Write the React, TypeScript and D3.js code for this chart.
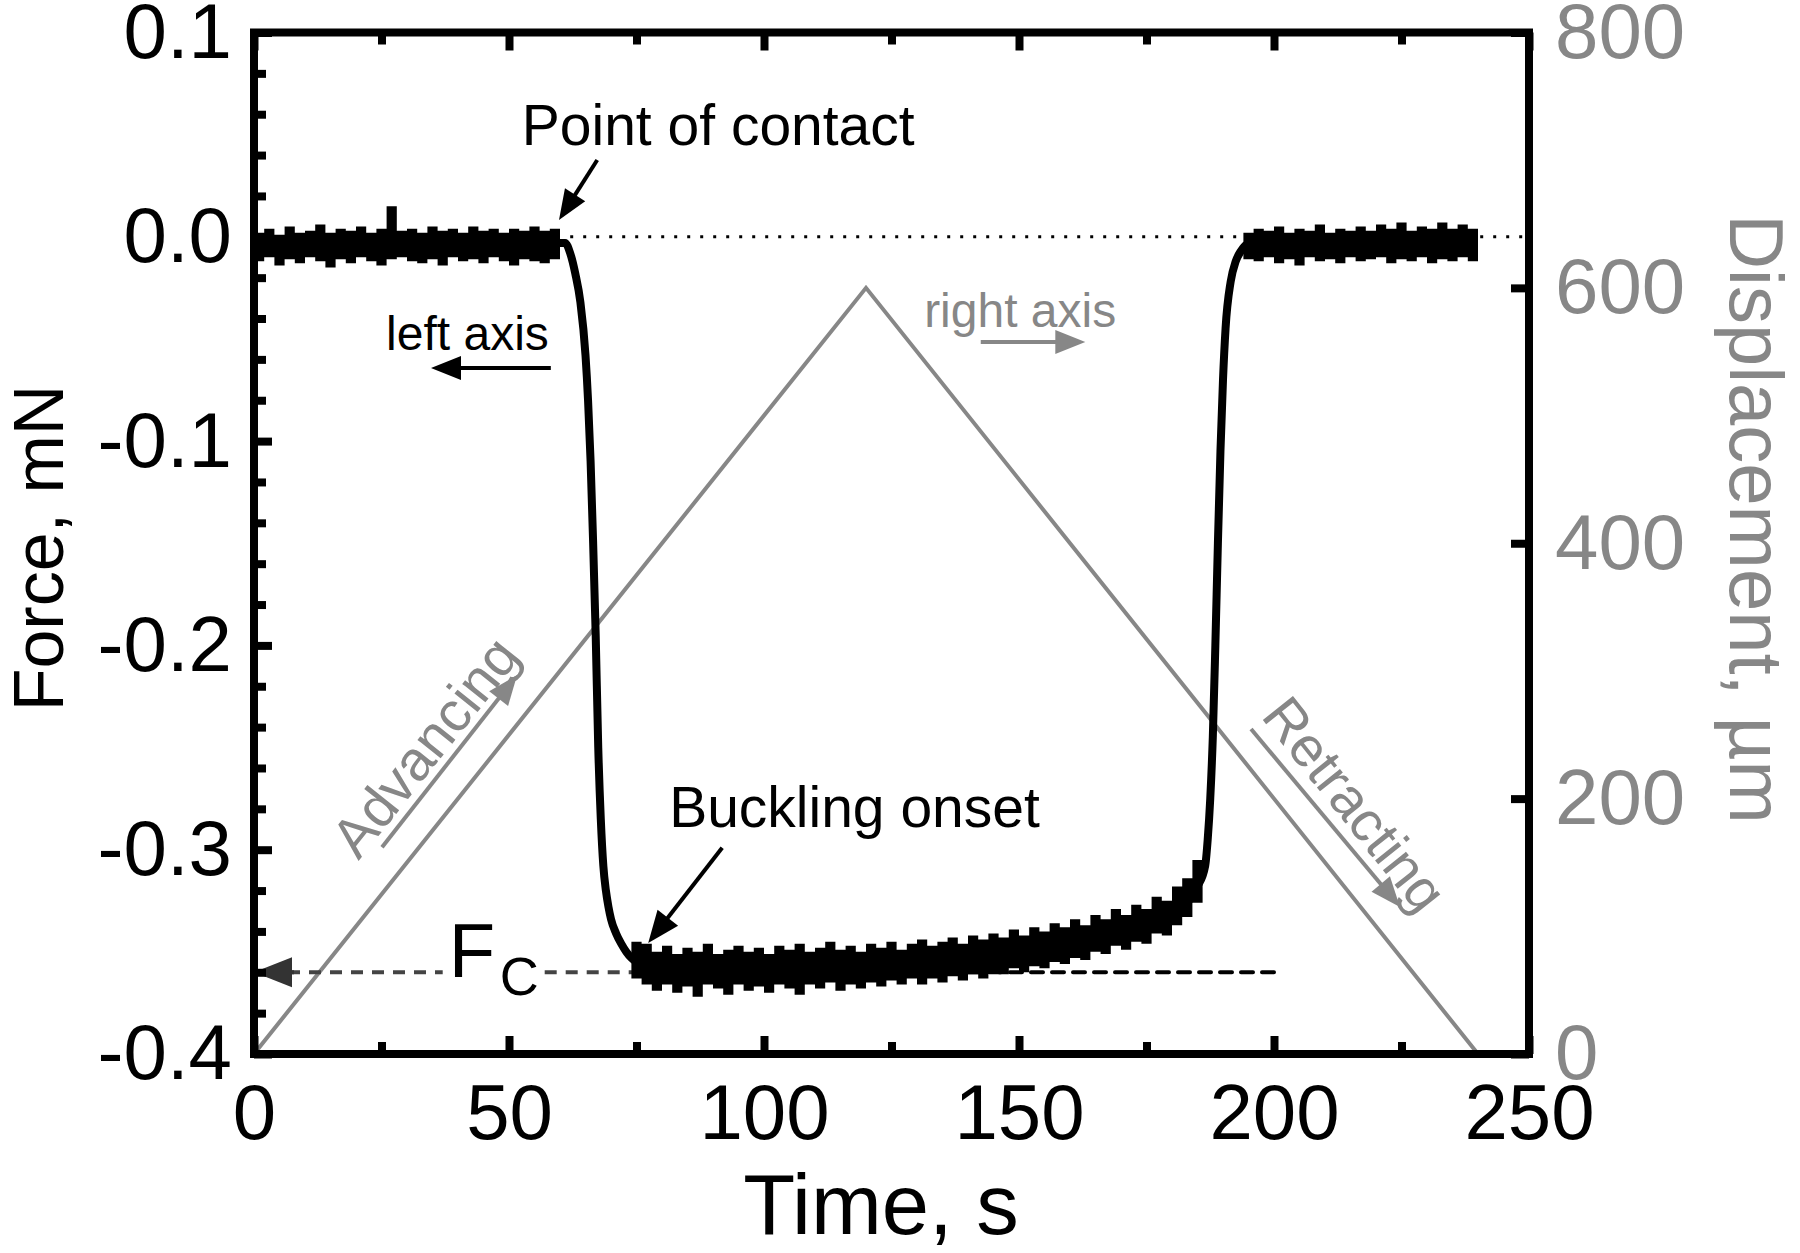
import React, { useEffect, useRef } from 'react'
import * as d3 from 'd3'

// axis ticks
const timeTicks = [0, 50, 100, 150, 200, 250]
const timeMinorTicks = [25, 75, 125, 175, 225]
const forceTicks = [0.1, 0.0, -0.1, -0.2, -0.3, -0.4]
const forceMinorTicks = [0.08, 0.06, 0.04, 0.02, -0.02, -0.04, -0.06, -0.08, -0.12, -0.14, -0.16, -0.18,
  -0.22, -0.24, -0.26, -0.28, -0.32, -0.34, -0.36, -0.38]
const dispTicks = [0, 200, 400, 600, 800]

// force trace (mean line)
const forceTime = [0, 20, 40, 60, 61, 62, 63, 64, 65, 65.5, 66, 66.5, 67, 67.5, 68, 68.5, 69, 69.5, 70, 71, 72,
  73, 74, 76, 80, 90, 100, 110, 120, 130, 140, 150, 160, 170, 175, 180, 183, 185, 186.5, 187, 187.5, 188, 188.5,
  189, 189.5, 190, 190.5, 191.5, 192.5, 193.5, 194.5, 196, 200, 220, 240]
const forceMean = [-0.004, -0.004, -0.004, -0.003, -0.003, -0.008, -0.018, -0.032, -0.058, -0.08, -0.11, -0.15,
  -0.195, -0.25, -0.285, -0.308, -0.32, -0.328, -0.334, -0.341, -0.346, -0.35, -0.353, -0.356, -0.357, -0.358,
  -0.358, -0.357, -0.357, -0.356, -0.355, -0.352, -0.348, -0.342, -0.338, -0.332, -0.326, -0.318, -0.308, -0.295,
  -0.275, -0.245, -0.2, -0.15, -0.105, -0.07, -0.045, -0.022, -0.012, -0.007, -0.004, -0.003, -0.002, -0.002,
  -0.002]

// noise envelope of the force trace (every 2 s)
const noise1Time = d3.range(0, 61, 2)
const noise1High = [0.002, 0.004, 0.001, 0.005, 0.002, 0.003, 0.006, 0.002, 0.004, 0.003, 0.005, 0.002, 0.004,
  0.015, 0.003, 0.004, 0.002, 0.005, 0.003, 0.004, 0.002, 0.005, 0.003, 0.004, 0.002, 0.004, 0.003, 0.005, 0.003,
  0.004, 0.004]
const noise1Low = [-0.012, -0.01, -0.014, -0.011, -0.013, -0.01, -0.012, -0.015, -0.011, -0.013, -0.01, -0.012,
  -0.014, -0.011, -0.01, -0.012, -0.013, -0.011, -0.014, -0.01, -0.012, -0.011, -0.013, -0.01, -0.012, -0.014,
  -0.011, -0.012, -0.013, -0.011, -0.01]
const noise2Time = d3.range(74, 187, 2)
const noise2High = [-0.345, -0.346, -0.35, -0.347, -0.351, -0.348, -0.35, -0.346, -0.351, -0.349, -0.347, -0.35,
  -0.348, -0.351, -0.347, -0.349, -0.346, -0.35, -0.348, -0.345, -0.349, -0.347, -0.35, -0.346, -0.348, -0.345,
  -0.349, -0.346, -0.344, -0.347, -0.345, -0.343, -0.346, -0.342, -0.344, -0.341, -0.343, -0.339, -0.342, -0.338,
  -0.34, -0.336, -0.338, -0.334, -0.337, -0.332, -0.334, -0.329, -0.332, -0.327, -0.329, -0.323, -0.325, -0.318,
  -0.314, -0.305, -0.295]
const noise2Low = [-0.363, -0.366, -0.369, -0.366, -0.37, -0.367, -0.372, -0.366, -0.368, -0.371, -0.366, -0.369,
  -0.367, -0.37, -0.366, -0.368, -0.371, -0.366, -0.368, -0.365, -0.369, -0.366, -0.368, -0.365, -0.367, -0.364,
  -0.366, -0.363, -0.366, -0.363, -0.365, -0.362, -0.364, -0.361, -0.363, -0.36, -0.361, -0.358, -0.36, -0.357,
  -0.358, -0.355, -0.356, -0.353, -0.354, -0.35, -0.351, -0.347, -0.349, -0.345, -0.346, -0.341, -0.342, -0.337,
  -0.333, -0.326, -0.316]
const noise3Time = d3.range(194, 241, 2)
const noise3High = [0.002, 0.004, 0.003, 0.005, 0.002, 0.004, 0.003, 0.006, 0.002, 0.004, 0.003, 0.005, 0.003,
  0.006, 0.004, 0.007, 0.003, 0.005, 0.004, 0.007, 0.004, 0.006, 0.004, 0.004]
const noise3Low = [-0.011, -0.012, -0.01, -0.013, -0.011, -0.014, -0.01, -0.012, -0.011, -0.013, -0.01, -0.012,
  -0.011, -0.01, -0.013, -0.011, -0.012, -0.01, -0.013, -0.011, -0.012, -0.01, -0.012, -0.011]

// displacement (right axis)
const dispTime = [0, 120, 240]
const dispValue = [0, 600, 0]

const criticalForce = -0.36

const W = 1800
const H = 1253
const margin = { left: 254, right: 271, top: 32.5, bottom: 199 }
const FONT = '"Liberation Sans", Arial, Helvetica, sans-serif'
const GREY = '#878787'

function arrow(g, x1, y1, x2, y2, color, width, headLen, headHalf) {
  const a = Math.atan2(y2 - y1, x2 - x1)
  const c = Math.cos(a)
  const s = Math.sin(a)
  const bx = x2 - headLen * c
  const by = y2 - headLen * s
  g.append('line')
    .attr('x1', x1).attr('y1', y1).attr('x2', bx + c).attr('y2', by + s)
    .attr('stroke', color).attr('stroke-width', width)
  g.append('path')
    .attr('d', `M${x2},${y2}L${bx - headHalf * s},${by + headHalf * c}L${bx + headHalf * s},${by - headHalf * c}Z`)
    .attr('fill', color)
}

export default function App() {
  const svgRef = useRef(null)

  useEffect(() => {
    const svg = d3.select(svgRef.current)
    svg.selectAll('*').remove()

    const x = d3.scaleLinear().domain([0, 250]).range([margin.left, W - margin.right])
    const yF = d3.scaleLinear().domain([-0.4, 0.1]).range([H - margin.bottom, margin.top])
    const yD = d3.scaleLinear().domain([0, 800]).range([H - margin.bottom, margin.top])
    const x0 = margin.left
    const x1 = W - margin.right
    const y0 = margin.top
    const y1 = H - margin.bottom

    const g = svg.append('g')

    // displacement triangle
    const dispLine = d3.line().x(d => x(d[0])).y(d => yD(d[1]))
    g.append('path')
      .datum(dispTime.map((t, i) => [t, dispValue[i]]))
      .attr('d', dispLine)
      .attr('fill', 'none')
      .attr('stroke', GREY)
      .attr('stroke-width', 4)

    // zero force dotted line
    g.append('line')
      .attr('x1', x(62)).attr('x2', x(250))
      .attr('y1', yF(0)).attr('y2', yF(0))
      .attr('stroke', '#000').attr('stroke-width', 3)
      .attr('stroke-dasharray', '3,10')

    // critical force dashed line, broken around the F_C label
    const fcY = yF(criticalForce)
    ;[[x(0) + 34, x(37)], [x(57), x(76)]].forEach(([a, b]) => {
      g.append('line')
        .attr('x1', a).attr('x2', b)
        .attr('y1', fcY).attr('y2', fcY)
        .attr('stroke', '#444').attr('stroke-width', 4)
        .attr('stroke-dasharray', '12,9')
    })
    g.append('line')
      .attr('x1', x(140)).attr('x2', x(200))
      .attr('y1', fcY).attr('y2', fcY)
      .attr('stroke', '#000').attr('stroke-width', 4)
      .attr('stroke-dasharray', '12,9')
      .attr('stroke-linecap', 'round')
    arrow(g, x(0) + 40, fcY, x(0), fcY, '#333', 4, 38, 15)

    // force noise band
    const band = d3.area()
      .x(d => x(d[0]))
      .y0(d => yF(d[2]))
      .y1(d => yF(d[1]))
      .curve(d3.curveStepAfter)
    const segs = [
      [noise1Time, noise1High, noise1Low],
      [noise2Time, noise2High, noise2Low],
      [noise3Time, noise3High, noise3Low]
    ]
    segs.forEach(([ts, hi, lo]) => {
      g.append('path')
        .datum(ts.map((t, i) => [t, hi[i], lo[i]]))
        .attr('d', band)
        .attr('fill', '#000')
    })

    // force mean line
    const forceLine = d3.line().x(d => x(d[0])).y(d => yF(d[1])).curve(d3.curveMonotoneX)
    g.append('path')
      .datum(forceTime.map((t, i) => [t, forceMean[i]]))
      .attr('d', forceLine)
      .attr('fill', 'none')
      .attr('stroke', '#000')
      .attr('stroke-width', 8)
      .attr('stroke-linejoin', 'round')

    // frame
    g.append('rect')
      .attr('x', x0).attr('y', y0)
      .attr('width', x1 - x0).attr('height', y1 - y0)
      .attr('fill', 'none').attr('stroke', '#000').attr('stroke-width', 8)

    const styleAxis = (sel, color) => {
      sel.select('.domain').remove()
      sel.selectAll('line').attr('stroke', '#000').attr('stroke-width', 8)
      sel.selectAll('text')
        .attr('fill', color)
        .style('font-family', FONT)
        .style('font-size', '78px')
    }

    // bottom
    g.append('g').attr('transform', `translate(0,${y1})`)
      .call(d3.axisBottom(x).tickValues(timeTicks).tickSize(-18).tickPadding(30).tickFormat(d => String(d)))
      .call(s => styleAxis(s, '#000'))
    g.append('g').attr('transform', `translate(0,${y1})`)
      .call(d3.axisBottom(x).tickValues(timeMinorTicks).tickSize(-12).tickFormat(''))
      .call(s => styleAxis(s, '#000'))
    // top
    g.append('g').attr('transform', `translate(0,${y0})`)
      .call(d3.axisTop(x).tickValues(timeTicks).tickSize(-18).tickFormat(''))
      .call(s => styleAxis(s, '#000'))
    g.append('g').attr('transform', `translate(0,${y0})`)
      .call(d3.axisTop(x).tickValues(timeMinorTicks).tickSize(-12).tickFormat(''))
      .call(s => styleAxis(s, '#000'))
    // left
    g.append('g').attr('transform', `translate(${x0},0)`)
      .call(d3.axisLeft(yF).tickValues(forceTicks).tickSize(-18).tickPadding(22).tickFormat(d => d.toFixed(1)))
      .call(s => styleAxis(s, '#000'))
    g.append('g').attr('transform', `translate(${x0},0)`)
      .call(d3.axisLeft(yF).tickValues(forceMinorTicks).tickSize(-12).tickFormat(''))
      .call(s => styleAxis(s, '#000'))
    // right
    g.append('g').attr('transform', `translate(${x1},0)`)
      .call(d3.axisRight(yD).tickValues(dispTicks).tickSize(-18).tickPadding(26).tickFormat(d => String(d)))
      .call(s => styleAxis(s, GREY))

    // axis titles
    svg.append('text')
      .attr('x', 881).attr('y', 1234)
      .attr('text-anchor', 'middle')
      .style('font-family', FONT).style('font-size', '85px')
      .text('Time, s')
    svg.append('text')
      .attr('transform', `translate(63,548) rotate(-90)`)
      .attr('text-anchor', 'middle')
      .style('font-family', FONT).style('font-size', '70px')
      .text('Force, mN')
    svg.append('text')
      .attr('transform', `translate(1730,519) rotate(90)`)
      .attr('text-anchor', 'middle')
      .attr('fill', GREY)
      .style('font-family', FONT).style('font-size', '76px')
      .text('Displacement, µm')

    // annotations
    const note = (tx, fy, str, size, color) =>
      g.append('text')
        .attr('x', x(tx)).attr('y', yF(fy))
        .attr('fill', color)
        .style('font-family', FONT).style('font-size', `${size}px`)
        .text(str)

    note(52.5, 0.045, 'Point of contact', 57, '#000')
    arrow(g, x(67.3), yF(0.0376), x(59.8), yF(0.0082), '#000', 4, 30, 12)

    note(25.9, -0.0554, 'left axis', 48, '#000')
    arrow(g, x(58.2), yF(-0.0642), x(34.7), yF(-0.0642), '#000', 4, 30, 12)

    note(131.4, -0.0441, 'right axis', 48, GREY)
    arrow(g, x(142.5), yF(-0.0515), x(163), yF(-0.0515), GREY, 4, 30, 12)

    note(81.4, -0.2888, 'Buckling onset', 57, '#000')
    arrow(g, x(91.8), yF(-0.299), x(77.3), yF(-0.3457), '#000', 4, 32, 13)

    note(38.2, -0.3623, 'F', 76, '#000')
    note(48.2, -0.371, 'C', 54, '#000')

    const slope = Math.atan2(yD(600) - yD(0), x(120) - x(0)) * 180 / Math.PI
    g.append('text')
      .attr('transform', `translate(${x(33.5)},${yD(240.8)}) rotate(${slope})`)
      .attr('text-anchor', 'middle').attr('dy', '0.35em')
      .attr('fill', GREY)
      .style('font-family', FONT).style('font-size', '56px')
      .text('Advancing')
    arrow(g, x(25.1), yD(162), x(51.6), yD(296.8), GREY, 4, 30, 12)

    g.append('text')
      .attr('transform', `translate(${x(215.9)},${yD(195.8)}) rotate(${-slope})`)
      .attr('text-anchor', 'middle').attr('dy', '0.35em')
      .attr('fill', GREY)
      .style('font-family', FONT).style('font-size', '56px')
      .text('Retracting')
    arrow(g, x(195.5), yD(254.5), x(224.7), yD(115.1), GREY, 4, 30, 12)
  }, [])

  return (
    <svg
      ref={svgRef}
      width={W}
      height={H}
      style={{ position: 'absolute', left: 0, top: 0, background: '#fff' }}
    />
  )
}
